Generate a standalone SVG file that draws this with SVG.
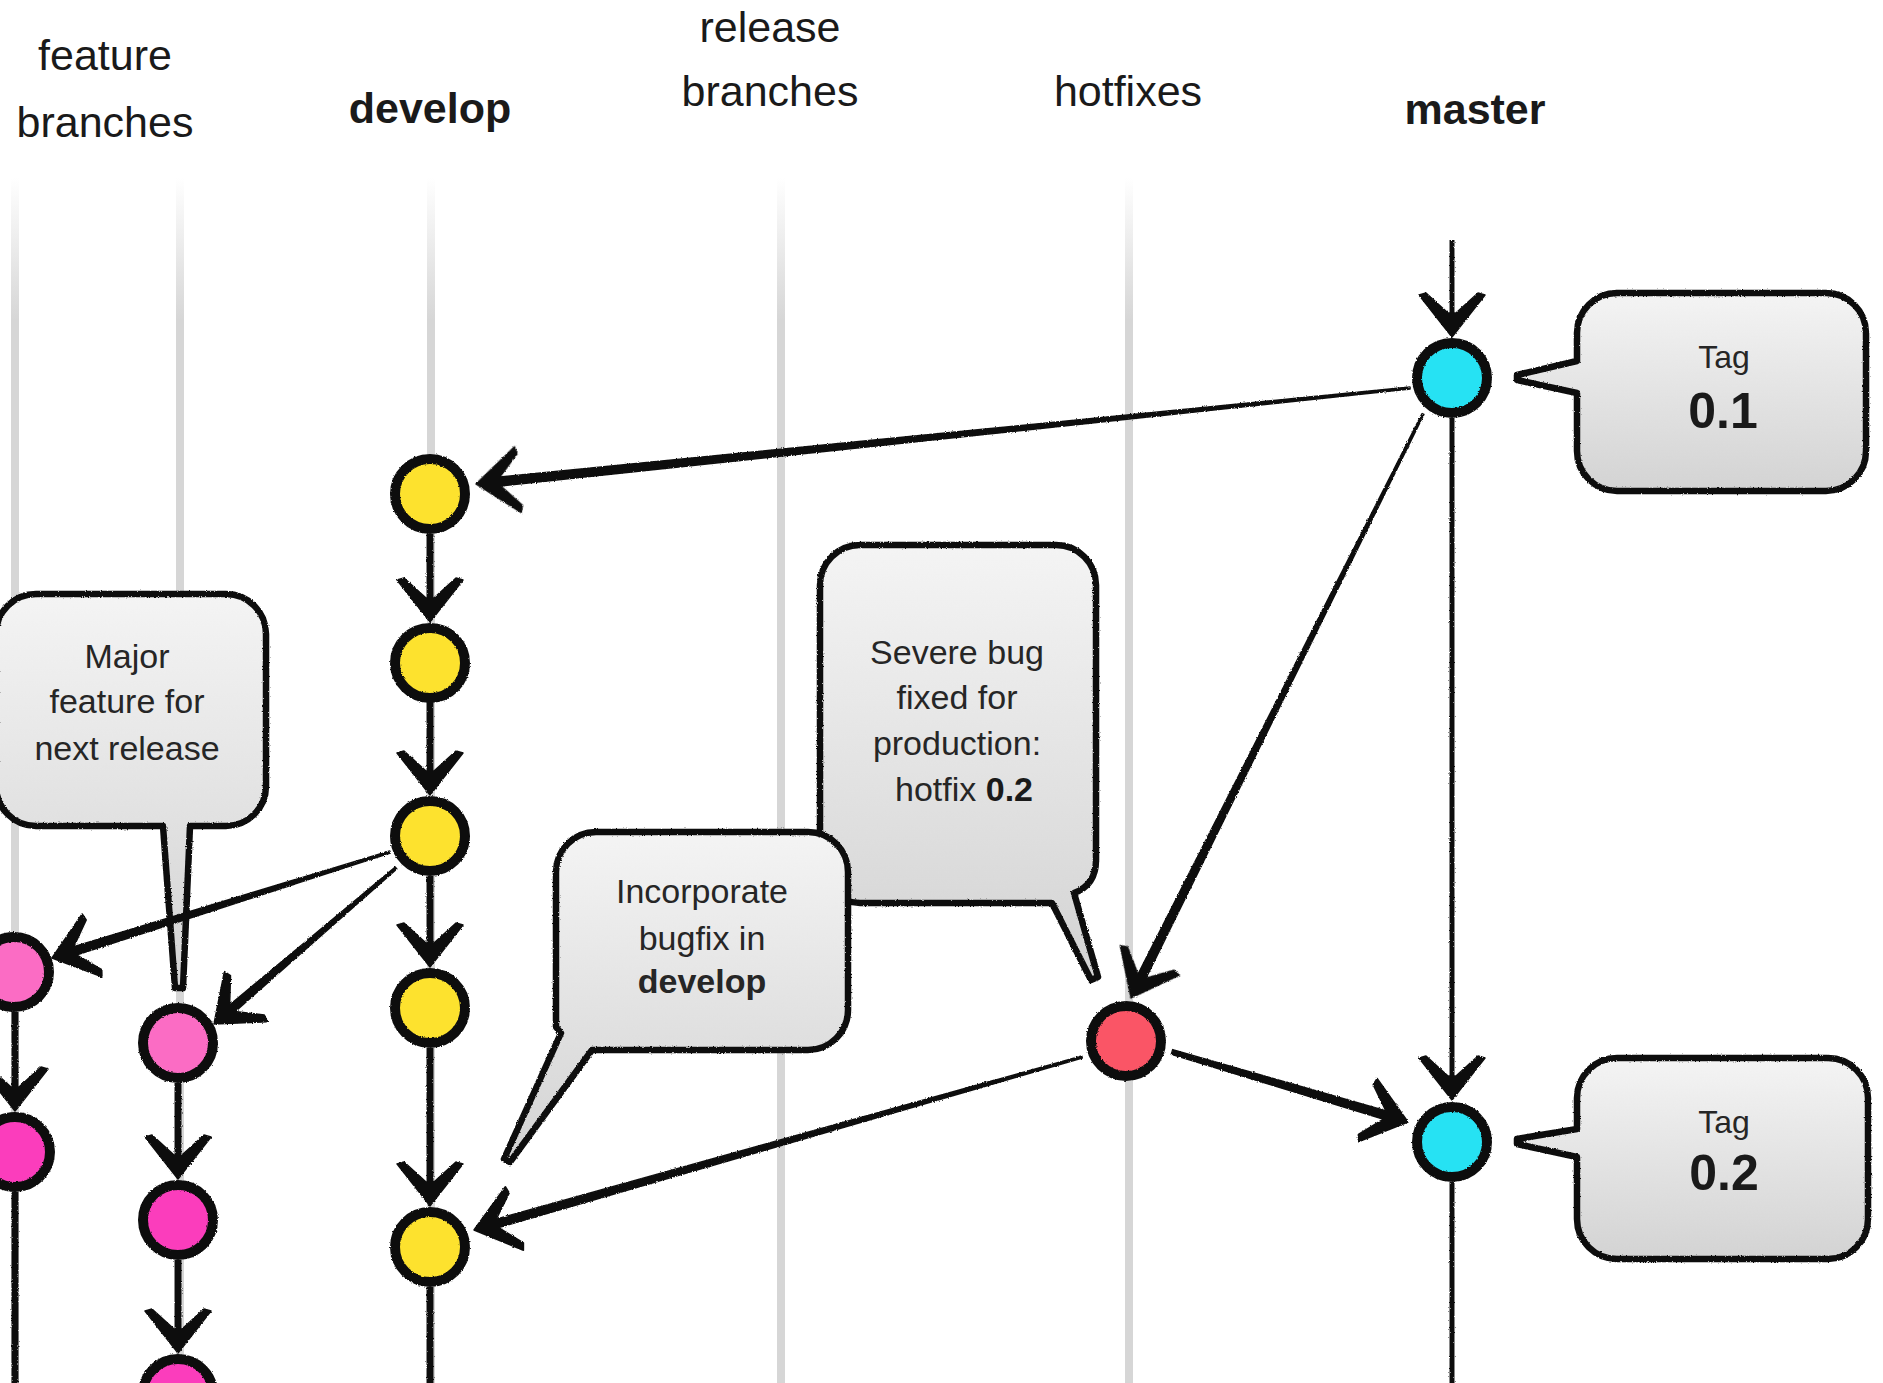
<svg xmlns="http://www.w3.org/2000/svg" xmlns:xlink="http://www.w3.org/1999/xlink" width="1883" height="1383" viewBox="0 0 1883 1383">
  <defs>
    <style>
      .hdr { font-family: "Liberation Sans", Arial, sans-serif; font-size: 43px; fill: #1a1a1a; text-anchor: middle; }
      .hdr-b { font-weight: bold; }
      .note { font-family: "Liberation Sans", Arial, sans-serif; font-size: 34px; fill: #262626; text-anchor: middle; }
      .tag { font-family: "Liberation Sans", Arial, sans-serif; font-size: 32px; fill: #262626; text-anchor: middle; }
      .ver { font-family: "Liberation Sans", Arial, sans-serif; font-size: 50px; font-weight: bold; fill: #1a1a1a; text-anchor: middle; }
      .lane { stroke: url(#laneFade); stroke-width: 8; fill: none; }
      .bubble { fill: url(#bubbleFill); stroke: #111; stroke-width: 6.5; stroke-linejoin: round; }
      .shaft { fill: #111; stroke: #111; stroke-width: 1.5; stroke-linejoin: round; }
      .line { stroke: #111; stroke-width: 7; fill: none; }
      .line-thin { stroke: #111; stroke-width: 5; fill: none; }
      .commit { stroke: #111; stroke-width: 10; }
      .develop { fill: #fde22e; }
      .master { fill: #28e2f3; }
      .hotfix { fill: #fa5466; }
      .feat-a { fill: #fb6cc4; }
      .feat-b { fill: #fb3cbc; }
    </style>
    <linearGradient id="laneFade" gradientUnits="userSpaceOnUse" x1="0" y1="178" x2="0" y2="320">
      <stop offset="0" stop-color="#d6d6d6" stop-opacity="0"/>
      <stop offset="1" stop-color="#d6d6d6" stop-opacity="1"/>
    </linearGradient>
    <linearGradient id="bubbleFill" x1="0" y1="0" x2="0" y2="1">
      <stop offset="0" stop-color="#f4f4f4"/>
      <stop offset="1" stop-color="#d3d3d3"/>
    </linearGradient>
    <filter id="rough" filterUnits="userSpaceOnUse" x="0" y="0" width="1883" height="1383">
      <feTurbulence type="fractalNoise" baseFrequency="0.8" numOctaves="2" seed="3" result="noise"/>
      <feDisplacementMap in="SourceGraphic" in2="noise" scale="2.5" xChannelSelector="R" yChannelSelector="G"/>
    </filter>
    <!-- barbed arrowhead, tip at origin, pointing along +x -->
    <path id="head" d="M0,0 L-42,-33 L-44,-26 L-24,-4 L-24,4 L-44,26 L-42,33 Z" fill="#111" stroke="#111" stroke-width="1.5" stroke-linejoin="round"/>
  </defs>

  <rect width="1883" height="1383" fill="#ffffff"/>

  <!-- branch lanes -->
  <g id="lanes">
    <line class="lane" x1="15" y1="178" x2="15" y2="1383"/>
    <line class="lane" x1="180" y1="178" x2="180" y2="1383"/>
    <line class="lane" x1="431" y1="178" x2="431" y2="1383"/>
    <line class="lane" x1="781" y1="178" x2="781" y2="1383"/>
    <line class="lane" x1="1129" y1="178" x2="1129" y2="1383"/>
  </g>

  <!-- lane headings -->
  <g id="headings">
    <text class="hdr" x="105" y="70">feature</text>
    <text class="hdr" x="105" y="137">branches</text>
    <text class="hdr hdr-b" x="430" y="123">develop</text>
    <text class="hdr" x="770" y="42">release</text>
    <text class="hdr" x="770" y="106">branches</text>
    <text class="hdr" x="1128" y="106">hotfixes</text>
    <text class="hdr hdr-b" x="1475" y="124">master</text>
  </g>

  <!-- speech bubbles -->
  <g id="note-major-feature" filter="url(#rough)">
    <path class="bubble" d="M36,594 H226 A40,40 0 0 1 266,634 V786 A40,40 0 0 1 226,826 H190 L183,988 L175,988 L163,826 H36 A40,40 0 0 1 -4,786 V634 A40,40 0 0 1 36,594 Z"/>
  </g>
  <g id="note-severe-bug" filter="url(#rough)">
    <path class="bubble" d="M860,545 H1056 A40,40 0 0 1 1096,585 V860 Q1096,885 1074,893 L1098,977 L1091,980 L1052,903 H860 A40,40 0 0 1 820,863 V585 A40,40 0 0 1 860,545 Z"/>
  </g>
  <g id="note-incorporate" filter="url(#rough)">
    <path class="bubble" d="M596,832 H808 A40,40 0 0 1 848,872 V1010 A40,40 0 0 1 808,1050 H592 L510,1162 L504,1159 L561,1033 L556,1027 V872 A40,40 0 0 1 596,832 Z"/>
  </g>
  <g id="tag-0-1" filter="url(#rough)">
    <path class="bubble" d="M1617,293 H1826 A40,40 0 0 1 1866,333 V451 A40,40 0 0 1 1826,491 H1617 A40,40 0 0 1 1577,451 V393 L1517,380 L1517,375 L1577,361 V333 A40,40 0 0 1 1617,293 Z"/>
  </g>
  <g id="tag-0-2" filter="url(#rough)">
    <path class="bubble" d="M1617,1058 H1828 A40,40 0 0 1 1868,1098 V1219 A40,40 0 0 1 1828,1259 H1617 A40,40 0 0 1 1577,1219 V1157 L1517,1144 L1517,1139 L1577,1129 V1098 A40,40 0 0 1 1617,1058 Z"/>
  </g>

  <!-- bubble texts -->
  <g id="note-texts">
    <text class="note" x="127" y="668">Major</text>
    <text class="note" x="127" y="713">feature for</text>
    <text class="note" x="127" y="760">next release</text>

    <text class="note" x="957" y="664">Severe bug</text>
    <text class="note" x="957" y="709">fixed for</text>
    <text class="note" x="957" y="755">production:</text>
    <text class="note" x="964" y="801">hotfix <tspan font-weight="bold" fill="#1a1a1a">0.2</tspan></text>

    <text class="note" x="702" y="903">Incorporate</text>
    <text class="note" x="702" y="950">bugfix in</text>
    <text class="note" x="702" y="993" font-weight="bold" fill="#1a1a1a">develop</text>

    <text class="tag" x="1724" y="368">Tag</text>
    <text class="ver" x="1723" y="428">0.1</text>
    <text class="tag" x="1724" y="1133">Tag</text>
    <text class="ver" x="1724" y="1190">0.2</text>
  </g>

  <!-- commit connectors -->
  <g id="connectors" filter="url(#rough)">
    <!-- master: incoming history -->
    <line class="line-thin" x1="1452" y1="240" x2="1452" y2="325"/>
    <use xlink:href="#head" transform="translate(1452 337) rotate(90)"/>
    <!-- master 0.1 -> develop -->
    <path class="shaft" d="M1409.9,387.0 L487.4,478.3 L488.4,487.3 L1410.1,389.0 Z"/>
    <use xlink:href="#head" transform="translate(476 484) rotate(174.13)"/>
    <!-- master 0.1 -> hotfix -->
    <path class="shaft" d="M1422.1,413.6 L1132.4,985.3 L1140.4,989.3 L1423.9,414.4 Z"/>
    <use xlink:href="#head" transform="translate(1131 998) rotate(116.57)"/>
    <!-- master 0.1 -> master 0.2 -->
    <line class="line-thin" x1="1452" y1="418" x2="1452" y2="1088"/>
    <use xlink:href="#head" transform="translate(1452 1100) rotate(90)"/>
    <!-- hotfix -> master 0.2 -->
    <path class="shaft" d="M1171.3,1054.4 L1395.2,1122.9 L1397.8,1114.3 L1172.7,1049.6 Z"/>
    <use xlink:href="#head" transform="translate(1408 1122) rotate(16.52)"/>
    <!-- hotfix -> develop -->
    <path class="shaft" d="M1081.7,1056.0 L484.3,1222.4 L486.7,1231.0 L1082.3,1058.0 Z"/>
    <use xlink:href="#head" transform="translate(474 1230) rotate(164.12)"/>
    <!-- master 0.2 onwards -->
    <line class="line-thin" x1="1452" y1="1182" x2="1452" y2="1390"/>

    <!-- develop chain -->
    <line class="line" x1="430" y1="534" x2="430" y2="610"/>
    <use xlink:href="#head" transform="translate(430 622) rotate(90)"/>
    <line class="line" x1="430" y1="702" x2="430" y2="783"/>
    <use xlink:href="#head" transform="translate(430 795) rotate(90)"/>
    <line class="line" x1="430" y1="876" x2="430" y2="955"/>
    <use xlink:href="#head" transform="translate(430 967) rotate(90)"/>
    <line class="line" x1="430" y1="1048" x2="430" y2="1194"/>
    <use xlink:href="#head" transform="translate(430 1206) rotate(90)"/>
    <line class="line" x1="430" y1="1287" x2="430" y2="1390"/>

    <!-- develop -> feature branches -->
    <path class="shaft" d="M389.7,851.0 L62.2,950.1 L64.8,958.7 L390.3,853.0 Z"/>
    <use xlink:href="#head" transform="translate(52 958) rotate(162.59)"/>
    <path class="shaft" d="M395.2,867.1 L220.2,1012.8 L226.0,1019.6 L396.8,868.9 Z"/>
    <use xlink:href="#head" transform="translate(214 1024) rotate(139.4)"/>

    <!-- feature branch chains -->
    <line class="line" x1="15" y1="1012" x2="15" y2="1099"/>
    <use xlink:href="#head" transform="translate(15 1111) rotate(90)"/>
    <line class="line" x1="15" y1="1192" x2="15" y2="1390"/>
    <line class="line" x1="178" y1="1083" x2="178" y2="1167"/>
    <use xlink:href="#head" transform="translate(178 1179) rotate(90)"/>
    <line class="line" x1="178" y1="1260" x2="178" y2="1341"/>
    <use xlink:href="#head" transform="translate(178 1353) rotate(90)"/>
  </g>

  <!-- commits -->
  <g id="commits" filter="url(#rough)">
    <g id="master-0-1"><circle class="commit master" cx="1452" cy="378" r="35"/></g>
    <g id="master-0-2"><circle class="commit master" cx="1452" cy="1142" r="35"/></g>
    <g id="hotfix-0-2"><circle class="commit hotfix" cx="1126" cy="1041" r="35"/></g>
    <g id="develop-1"><circle class="commit develop" cx="430" cy="494" r="35"/></g>
    <g id="develop-2"><circle class="commit develop" cx="430" cy="663" r="35"/></g>
    <g id="develop-3"><circle class="commit develop" cx="430" cy="836" r="35"/></g>
    <g id="develop-4"><circle class="commit develop" cx="430" cy="1008" r="35"/></g>
    <g id="develop-5"><circle class="commit develop" cx="430" cy="1247" r="35"/></g>
    <g id="feature-a-1"><circle class="commit feat-a" cx="14" cy="972" r="35"/></g>
    <g id="feature-a-2"><circle class="commit feat-b" cx="15" cy="1152" r="35"/></g>
    <g id="feature-b-1"><circle class="commit feat-a" cx="178" cy="1043" r="35"/></g>
    <g id="feature-b-2"><circle class="commit feat-b" cx="178" cy="1220" r="35"/></g>
    <g id="feature-b-3"><circle class="commit feat-b" cx="178" cy="1394" r="35"/></g>
  </g>
</svg>
